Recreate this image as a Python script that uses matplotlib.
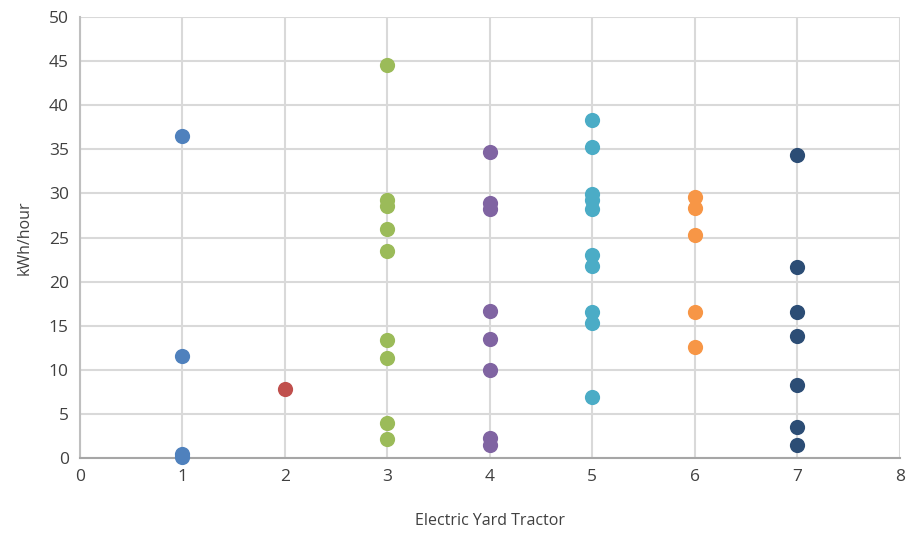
import numpy as np
import matplotlib; matplotlib.use('Agg')
import matplotlib.pyplot as plt

plt.rcParams['font.family'] = ['Open Sans', 'DejaVu Sans']

# kWh/hour readings per electric yard tractor
t1 = [36.5, 11.6, 0.4, 0.1]
t2 = [7.8]
t3 = [44.6, 29.3, 28.6, 26.0, 23.5, 13.4, 11.3, 4.0, 2.2]
t4 = [34.7, 28.9, 28.2, 16.7, 13.5, 10.0, 2.3, 1.5]
t5 = [38.3, 35.3, 29.9, 29.2, 28.2, 23.0, 21.8, 16.5, 15.3, 6.9]
t6 = [29.6, 28.3, 25.3, 16.5, 12.6]
t7 = [34.4, 21.6, 16.5, 13.8, 8.3, 3.5, 1.5]
tractors = [1, 2, 3, 4, 5, 6, 7]
series = [t1, t2, t3, t4, t5, t6, t7]
colors = ['#4F81BD', '#C0504D', '#9BBB59', '#8064A2', '#4BACC6', '#F79646', '#2C4D75']

fig = plt.figure(figsize=(9.06, 5.33), dpi=100)
ax = fig.add_axes([0.0883, 0.1407, 0.9047, 0.8274])

for x, ys, c in zip(tractors, series, colors):
    ax.scatter(np.full(len(ys), x), ys, s=120, color=c, zorder=3, linewidths=0, clip_on=False)

ax.set_xlim(0, 8); ax.set_ylim(0, 50)
ax.set_xticks(range(0, 9)); ax.set_yticks(range(0, 51, 5))
ax.grid(True, color='#D9D9D9', lw=1.5, zorder=0)
ax.set_axisbelow(True)
for s in ['top', 'right']:
    ax.spines[s].set_visible(False)
ax.spines['left'].set_color('#BFBFBF'); ax.spines['left'].set_linewidth(1.5)
ax.spines['bottom'].set_color('#A6A6A6'); ax.spines['bottom'].set_linewidth(1.5)
ax.tick_params(length=0, labelsize=12.5, colors='#404040', pad=8)
ax.set_xlabel('Electric Yard Tractor', fontsize=11.5, color='#404040', labelpad=20)
ax.set_ylabel('kWh/hour', fontsize=11.5, color='#404040', labelpad=12)

fig.savefig('out.png', dpi=100)
